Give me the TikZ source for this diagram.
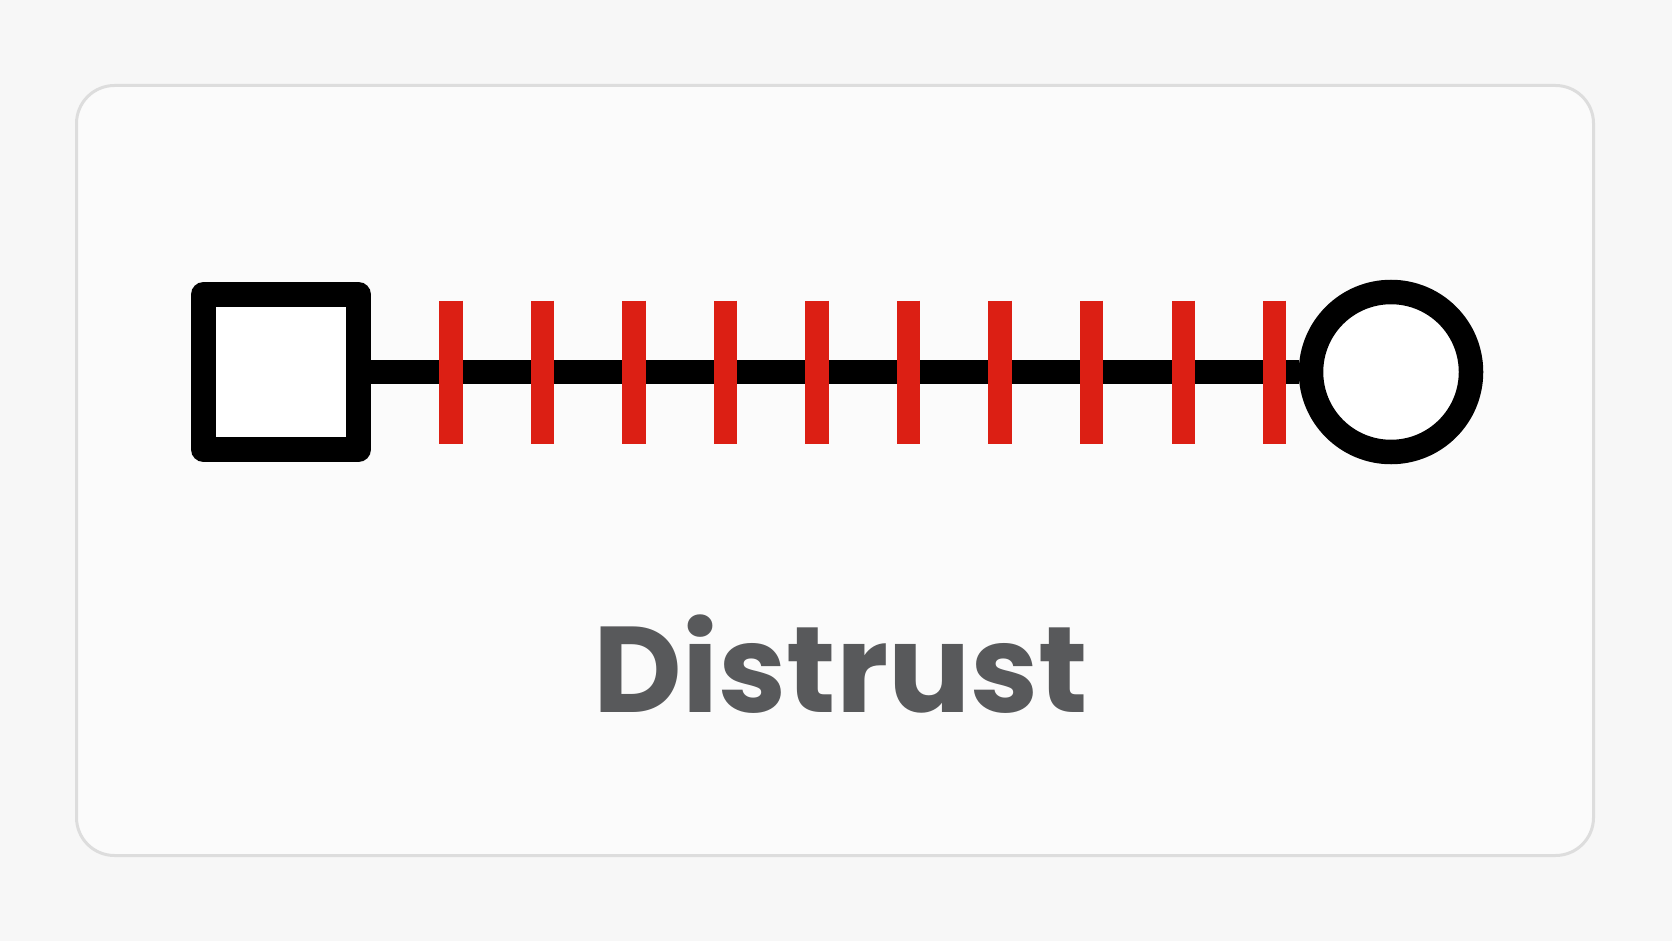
\documentclass[tikz,border=0pt]{standalone}
\usepackage{fontspec}
\setmainfont{Poppins}
\usetikzlibrary{calc,shapes}

\definecolor{pagebg}{HTML}{F7F7F7}
\definecolor{cardbg}{HTML}{FBFBFB}
\definecolor{cardline}{HTML}{DDDDDD}
\definecolor{barred}{HTML}{DC1F14}
\definecolor{labelgray}{HTML}{58595B}

\begin{document}
\begin{tikzpicture}[x=1pt,y=-1pt]
  \useasboundingbox [fill = pagebg] (0,0) rectangle (1672,941);
  \draw [color = cardline, fill = cardbg, line width = 3pt, rounded corners = 38pt] (76.5,85.5) rectangle (1593.5,855.5);

  \node [draw, rectangle, fill = white, line width = 25pt, line join = round, minimum size = 155pt, inner sep = 0pt] (box) at (281,372) {};
  \node [draw, circle, fill = white, line width = 24.5pt, minimum size = 160pt, inner sep = 0pt] (ring) at (1391,372) {};
  \draw [line width = 24pt] (box.east) -- (ring.west);

    \draw [color = barred, line width = 23.4pt] (451,300.7) -- (451,444.3);
    \draw [color = barred, line width = 23.4pt] (542.5,300.7) -- (542.5,444.3);
    \draw [color = barred, line width = 23.4pt] (634,300.7) -- (634,444.3);
    \draw [color = barred, line width = 23.4pt] (725.6,300.7) -- (725.6,444.3);
    \draw [color = barred, line width = 23.4pt] (817.1,300.7) -- (817.1,444.3);
    \draw [color = barred, line width = 23.4pt] (908.6,300.7) -- (908.6,444.3);
    \draw [color = barred, line width = 23.4pt] (1000.1,300.7) -- (1000.1,444.3);
    \draw [color = barred, line width = 23.4pt] (1091.6,300.7) -- (1091.6,444.3);
    \draw [color = barred, line width = 23.4pt] (1183.2,300.7) -- (1183.2,444.3);
    \draw [color = barred, line width = 23.4pt] (1274.7,300.7) -- (1274.7,444.3);

  \node [anchor = base, inner sep = 0pt, color = labelgray, font = \fontsize{122}{130}\selectfont\bfseries] (label) at (841,712) {Distrust};
\end{tikzpicture}
\end{document}
